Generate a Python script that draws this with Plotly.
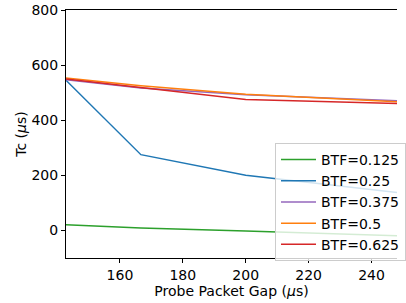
import plotly.graph_objects as go

gaps = [142.857, 166.667, 200.0, 250.0]
series_names = ["BTF=0.125", "BTF=0.25", "BTF=0.375", "BTF=0.5", "BTF=0.625"]
tc_0125 = [21, 9, -2, -20]
tc_025 = [545, 275, 200, 135]
tc_0375 = [547, 517, 492, 470]
tc_05 = [553, 525, 494, 466]
tc_0625 = [550, 518, 475, 460]
colors = ["#2ca02c", "#1f77b4", "#9467bd", "#ff7f0e", "#d62728"]

all_series = [tc_0125, tc_025, tc_0375, tc_05, tc_0625]

fig = go.Figure()
for name, vals, c in zip(series_names, all_series, colors):
    fig.add_trace(go.Scatter(x=gaps, y=vals, mode="lines", name=name,
                             line=dict(color=c, width=1.5)))

font = dict(family="DejaVu Sans", size=14, color="black")
fig.update_layout(
    width=406, height=303,
    margin=dict(l=66, r=0, t=10, b=45),
    plot_bgcolor="white", paper_bgcolor="white",
    font=font,
    showlegend=True,
    legend=dict(x=0.632, y=0.464, xanchor="left", yanchor="top",
                bgcolor="rgba(255,255,255,0.8)", bordercolor="#cccccc", borderwidth=1,
                font=dict(family="DejaVu Sans", size=14, color="black"), tracegroupgap=0,
                itemwidth=35),
)
fig.update_xaxes(range=[142.857, 248.1], tickvals=[160, 180, 200, 220, 240],
                 showgrid=False, zeroline=False, showline=True, linecolor="black",
                 linewidth=1, mirror=True, ticks="outside", ticklen=4, tickcolor="black",
                 automargin=False,
                 title=dict(text="Probe Packet Gap (<i>μ</i>s)", standoff=0, font=font))
fig.update_yaxes(range=[-100, 800], tickvals=[0, 200, 400, 600, 800],
                 showgrid=False, zeroline=False, showline=True, linecolor="black",
                 linewidth=1, ticks="outside", ticklen=4, tickcolor="black",
                 automargin=False,
                 title=dict(text="Tc (<i>μ</i>s)", standoff=1, font=font))

fig.write_html("out.html", config={"displayModeBar": False},
               post_script="document.body.style.margin='0';document.body.style.overflow='hidden';")
